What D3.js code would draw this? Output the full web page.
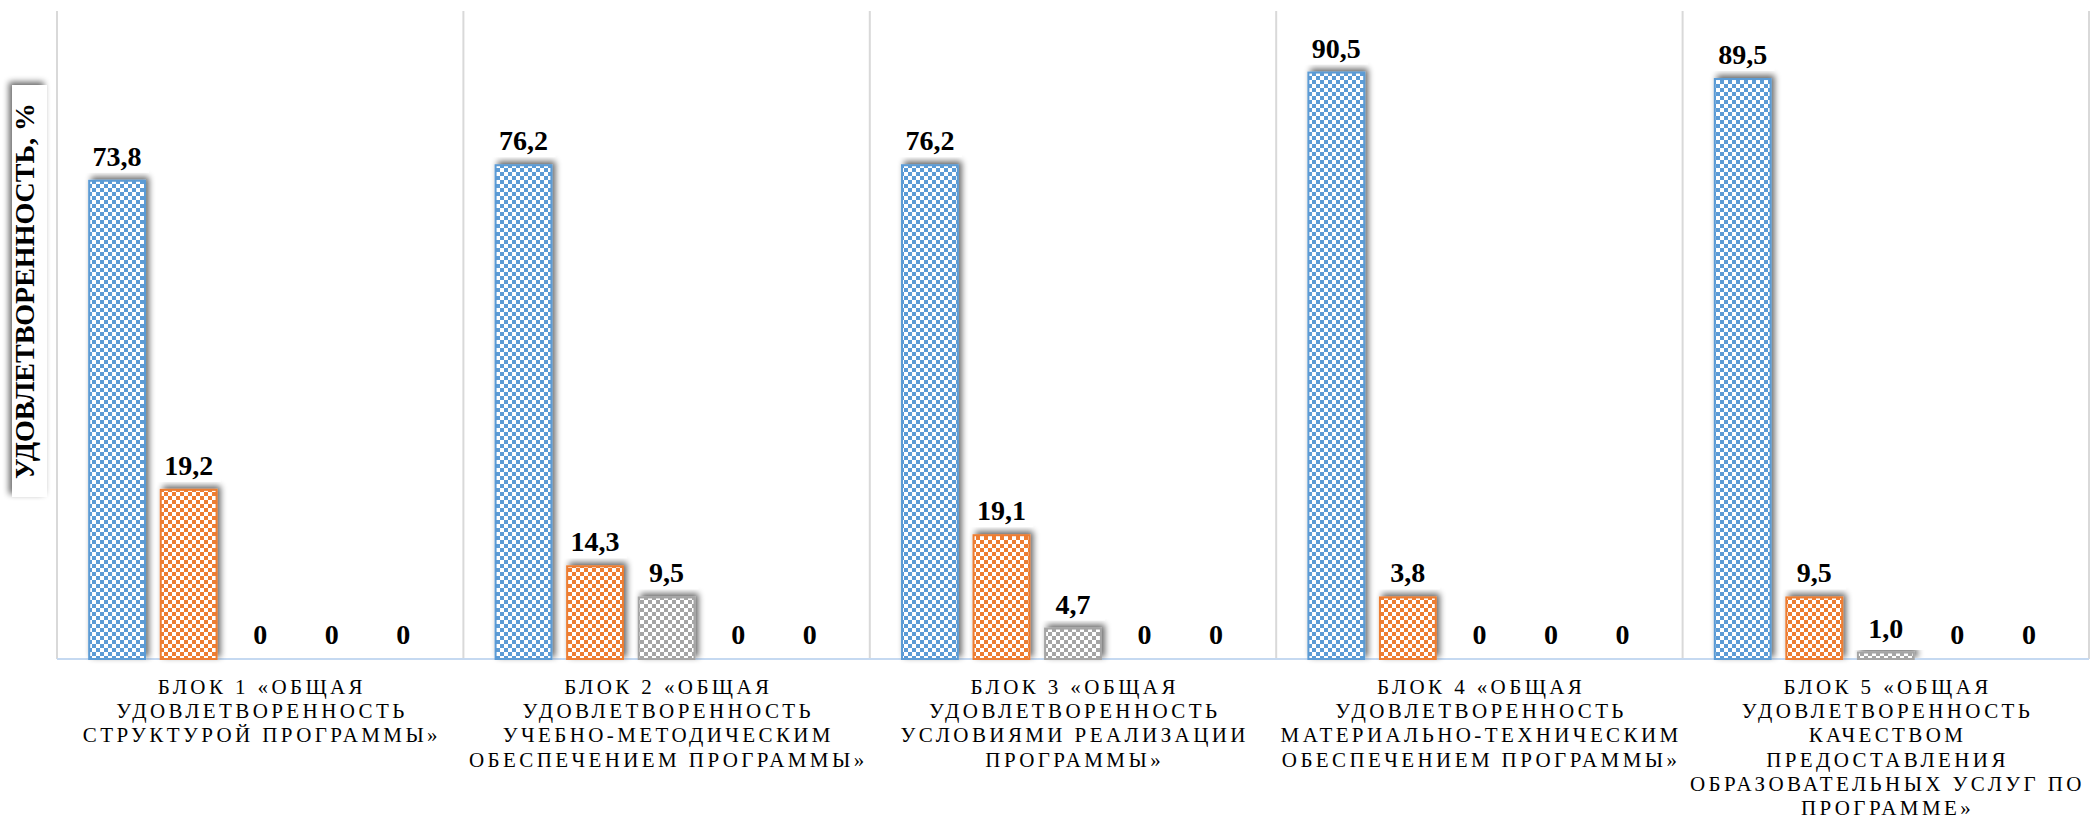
<!DOCTYPE html>
<html>
<head>
<meta charset="utf-8">
<script src="https://cdn.jsdelivr.net/npm/d3@7"></script>
<style>
  body { margin: 0; background: #fff; }
  text { font-family: "Liberation Serif", "Times New Roman", serif; }
</style>
</head>
<body>
<div id="chart"></div>
<script>
// Set dimensions and margins for the plot
const width = 2092;
const height = 819;
const margin = {left: 57, right: 3, top: 11, bottom: 160};

// Chart data
const categories = ["b1", "b2", "b3", "b4", "b5"];
const categoryLines = [
  ["БЛОК 1 «ОБЩАЯ", "УДОВЛЕТВОРЕННОСТЬ", "СТРУКТУРОЙ ПРОГРАММЫ»"],
  ["БЛОК 2 «ОБЩАЯ", "УДОВЛЕТВОРЕННОСТЬ", "УЧЕБНО-МЕТОДИЧЕСКИМ", "ОБЕСПЕЧЕНИЕМ ПРОГРАММЫ»"],
  ["БЛОК 3 «ОБЩАЯ", "УДОВЛЕТВОРЕННОСТЬ", "УСЛОВИЯМИ РЕАЛИЗАЦИИ", "ПРОГРАММЫ»"],
  ["БЛОК 4 «ОБЩАЯ", "УДОВЛЕТВОРЕННОСТЬ", "МАТЕРИАЛЬНО-ТЕХНИЧЕСКИМ", "ОБЕСПЕЧЕНИЕМ ПРОГРАММЫ»"],
  ["БЛОК 5 «ОБЩАЯ", "УДОВЛЕТВОРЕННОСТЬ", "КАЧЕСТВОМ", "ПРЕДОСТАВЛЕНИЯ", "ОБРАЗОВАТЕЛЬНЫХ УСЛУГ ПО", "ПРОГРАММЕ»"]
];
const seriesNames = ["s1", "s2", "s3", "s4", "s5"];
// bar heights as drawn in the picture
const series1 = [73.8, 76.2, 76.2, 90.5, 89.5];
const series2 = [26.1, 14.3, 19.1, 9.5, 9.5];
const series3 = [0, 9.5, 4.7, 0, 1.0];
const series4 = [0, 0, 0, 0, 0];
const series5 = [0, 0, 0, 0, 0];
// printed labels (two orange labels differ from their bar heights)
const series2Labels = ["19,2", "14,3", "19,1", "3,8", "9,5"];
const seriesColors = ["#5b9bd5", "#ed7d31", "#a5a5a5", "#ffc000", "#4472c4"];
const yTitle = "УДОВЛЕТВОРЕННОСТЬ, %";

const allSeries = [series1, series2, series3, series4, series5];

const svg = d3.select("#chart")
  .append("svg")
  .attr("width", width)
  .attr("height", height);

const defs = svg.append("defs");

// shadow used by bars and the title box
const shadow = defs.append("filter")
  .attr("id", "shadow")
  .attr("x", "-30%").attr("y", "-30%")
  .attr("width", "160%").attr("height", "160%");
shadow.append("feGaussianBlur").attr("in", "SourceAlpha").attr("stdDeviation", 3).attr("result", "b");
shadow.append("feOffset").attr("in", "b").attr("dx", 3).attr("dy", -3).attr("result", "o");
shadow.append("feComponentTransfer").attr("in", "o").attr("result", "s")
  .append("feFuncA").attr("type", "linear").attr("slope", 0.6);
const fm = shadow.append("feMerge");
fm.append("feMergeNode").attr("in", "s");
fm.append("feMergeNode").attr("in", "SourceGraphic");

// checkerboard fills
seriesColors.forEach((c, i) => {
  const p = defs.append("pattern")
    .attr("id", "check" + i)
    .attr("patternUnits", "userSpaceOnUse")
    .attr("width", 8).attr("height", 8);
  p.append("rect").attr("width", 8).attr("height", 8).attr("fill", "#fff");
  p.append("rect").attr("width", 4).attr("height", 4).attr("fill", c);
  p.append("rect").attr("x", 4).attr("y", 4).attr("width", 4).attr("height", 4).attr("fill", c);
});

/* Scales */
const x0 = d3.scaleBand()
  .domain(categories)
  .range([margin.left, width - margin.right]);

const x1 = d3.scaleBand()
  .domain(seriesNames)
  .range([0, x0.bandwidth()])
  .paddingInner(0.22)
  .paddingOuter(0.45);

const y = d3.scaleLinear()
  .domain([0, 100])
  .range([height - margin.bottom, margin.top]);

const y0 = y(0);

/* Category dividers */
const bounds = categories.map(c => x0(c)).concat([x0(categories[4]) + x0.bandwidth()]);
svg.append("g")
  .selectAll("line")
  .data(bounds)
  .enter()
  .append("line")
    .attr("x1", d => d).attr("x2", d => d)
    .attr("y1", y(100)).attr("y2", y0)
    .attr("stroke", "#d9d9d9")
    .attr("stroke-width", 2);

// baseline
svg.append("line")
  .attr("x1", x0.range()[0]).attr("x2", x0.range()[1])
  .attr("y1", y0).attr("y2", y0)
  .attr("stroke", "#c5d9f1")
  .attr("stroke-width", 2);

/* Bars */
const fmt = v => v === 0 ? "0" : v.toFixed(1).replace(".", ",");

const cells = [];
categories.forEach((c, ci) => {
  seriesNames.forEach((s, si) => {
    const v = allSeries[si][ci];
    cells.push({cat: c, ser: s, si: si, value: v,
                label: si === 1 ? series2Labels[ci] : fmt(v)});
  });
});

svg.append("g")
  .selectAll("rect")
  .data(cells.filter(d => d.value > 0))
  .enter()
  .append("rect")
    .attr("x", d => x0(d.cat) + x1(d.ser))
    .attr("y", d => y(d.value))
    .attr("width", x1.bandwidth())
    .attr("height", d => y0 - y(d.value))
    .attr("fill", d => "url(#check" + d.si + ")")
    .attr("stroke", d => seriesColors[d.si])
    .attr("stroke-width", 2)
    .attr("filter", "url(#shadow)");

/* Value labels */
const labels = svg.append("g")
  .selectAll("g")
  .data(cells)
  .enter()
  .append("g")
    .attr("transform", d => `translate(${x0(d.cat) + x1(d.ser) + x1.bandwidth() / 2},${y(d.value) - 15})`);

labels.filter(d => d.value > 0)
  .append("rect")
    .attr("x", -32).attr("y", -28)
    .attr("width", 64).attr("height", 35)
    .attr("fill", "#fff");

labels.append("text")
  .attr("text-anchor", "middle")
  .attr("font-size", 28)
  .attr("font-weight", "bold")
  .attr("fill", "#000")
  .text(d => d.label);

/* Category labels */
svg.append("g")
  .selectAll("text")
  .data(categories)
  .enter()
  .append("text")
    .attr("text-anchor", "middle")
    .attr("font-size", 21)
    .attr("letter-spacing", 3.4)
    .attr("fill", "#000")
    .each(function(d, i) {
      const t = d3.select(this);
      const cx = x0(d) + x0.bandwidth() / 2;
      categoryLines[i].forEach((line, li) => {
        t.append("tspan")
          .attr("x", cx + 1.7)
          .attr("y", 694 + li * 24.2)
          .text(line);
      });
    });

/* Y title */
const title = svg.append("g")
  .attr("transform", "translate(34,291) rotate(-90)");
title.append("rect")
  .attr("x", -206).attr("y", -22)
  .attr("width", 412).attr("height", 35)
  .attr("fill", "#fff")
  .attr("filter", "url(#shadow)");
title.append("text")
  .attr("text-anchor", "middle")
  .attr("font-size", 28)
  .attr("font-weight", "bold")
  .attr("fill", "#000")
  .text(yTitle);
</script>
</body>
</html>
